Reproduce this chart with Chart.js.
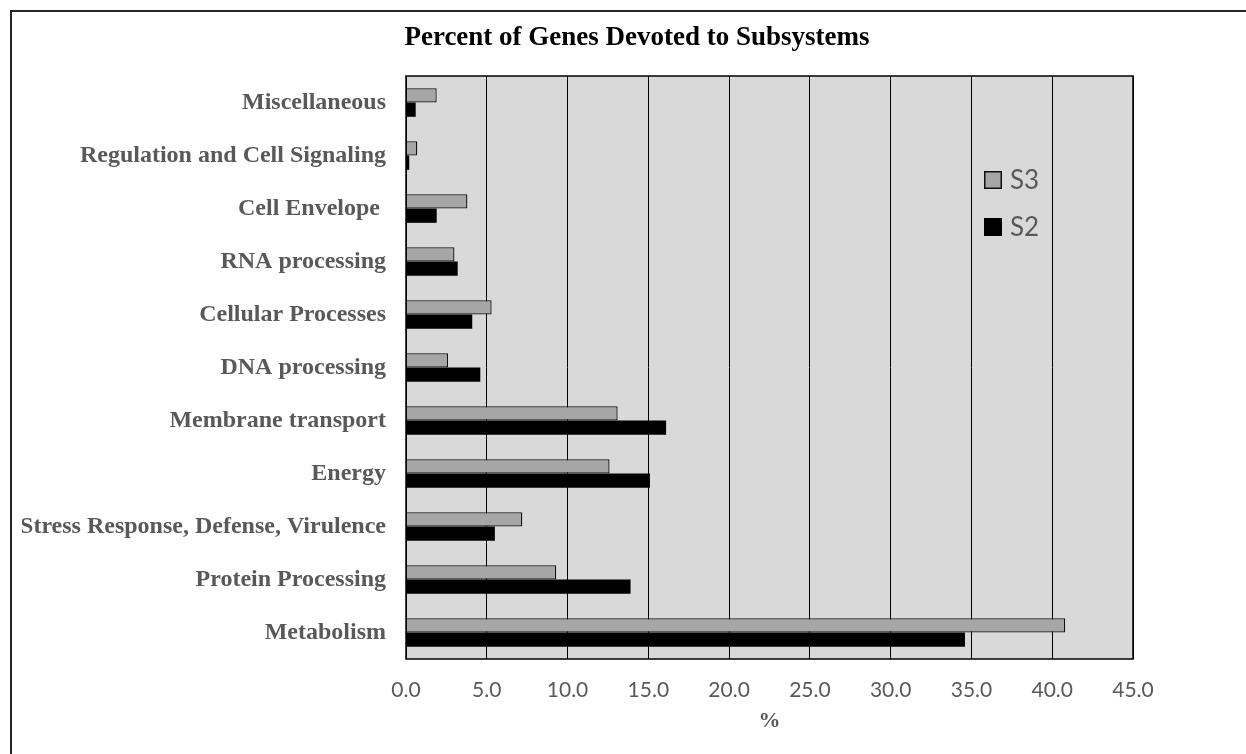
<!DOCTYPE html>
<html>
<head>
<meta charset="utf-8">
<title>Percent of Genes Devoted to Subsystems</title>
<script src="https://cdn.jsdelivr.net/npm/chart.js@4.4.1/dist/chart.umd.min.js"></script>
<style>
  html, body { margin: 0; padding: 0; background: #fff; overflow: hidden; width: 1246px; height: 754px; }
  #frame { position: absolute; left: 10px; top: 10px; width: 1250px; height: 742px; border: 2px solid #262626; }
  canvas { display: block; }
</style>
</head>
<body>
<div id="frame"><canvas id="chart" width="1250" height="742"></canvas></div>
<script>
// Subsystem categories, listed top to bottom
const categories = [
  'Miscellaneous',
  'Regulation and Cell Signaling',
  'Cell Envelope ',
  'RNA processing',
  'Cellular Processes',
  'DNA processing',
  'Membrane transport',
  'Energy',
  'Stress Response, Defense, Virulence',
  'Protein Processing',
  'Metabolism'
];

// Percent of genes per subsystem
const s3Values = [1.9, 0.7, 3.8, 3.0, 5.3, 2.6, 13.1, 12.6, 7.2, 9.3, 40.8];
const s2Values = [0.6, 0.2, 1.9, 3.2, 4.1, 4.6, 16.1, 15.1, 5.5, 13.9, 34.6];

const seriesNames = ['S3', 'S2'];
const chartTitle = 'Percent of Genes Devoted to Subsystems';
const axisTitle = '%';

// Value axis range and tick spacing
const xMin = 0;
const xMax = 45;
const xStep = 5;

const LABEL_GRAY = '#595959';
const SERIF = '"Liberation Serif", "Times New Roman", serif';
const SANS = 'Lato, "Open Sans", sans-serif';

// Grey plot background and black frame around the plot area
const plotFrame = {
  id: 'plotFrame',
  beforeDraw(chart) {
    const { ctx, chartArea: a } = chart;
    ctx.save();
    ctx.fillStyle = '#d9d9d9';
    ctx.fillRect(a.left, a.top, a.right - a.left, a.bottom - a.top);
    ctx.restore();
  },
  afterDatasetsDraw(chart) {
    const { ctx, chartArea: a } = chart;
    ctx.save();
    ctx.strokeStyle = '#000';
    ctx.lineWidth = 1.5;
    ctx.strokeRect(a.left, a.top, a.right - a.left, a.bottom - a.top);
    ctx.restore();
  }
};

// Chart title centred on the whole bordered box
const boxTitle = {
  id: 'boxTitle',
  afterDraw(chart) {
    const { ctx } = chart;
    ctx.save();
    ctx.font = 'bold 27px ' + SERIF;
    ctx.fillStyle = '#000';
    ctx.textAlign = 'center';
    ctx.textBaseline = 'middle';
    ctx.fillText(chartTitle, chart.width / 2, 26);
    ctx.restore();
  }
};

// Legend drawn inside the plot area, near its right side
const innerLegend = {
  id: 'innerLegend',
  afterDraw(chart) {
    const { ctx, chartArea: a } = chart;
    const box = 18;
    const x0 = a.right - 149;
    const rows = [a.top + 104, a.top + 151];
    ctx.save();
    ctx.font = '26px ' + SANS;
    ctx.textBaseline = 'middle';
    ctx.textAlign = 'left';
    chart.data.datasets.forEach((ds, i) => {
      const yc = rows[i];
      ctx.fillStyle = ds.backgroundColor;
      ctx.fillRect(x0, yc - box / 2, box, box);
      if (ds.borderWidth) {
        ctx.strokeStyle = ds.borderColor;
        ctx.lineWidth = 1.5;
        ctx.strokeRect(x0 + 0.75, yc - box / 2 + 0.75, box - 1.5, box - 1.5);
      }
      ctx.fillStyle = LABEL_GRAY;
      ctx.fillText(ds.label, x0 + box + 8, yc + 1);
    });
    ctx.restore();
  }
};

function draw() {
  new Chart(document.getElementById('chart'), {
    type: 'bar',
    data: {
      labels: categories,
      datasets: [
        {
          label: seriesNames[0],
          data: s3Values,
          backgroundColor: '#a6a6a6',
          borderColor: '#111',
          borderWidth: 1.3,
          borderSkipped: 'start',
          barPercentage: 1.0,
          categoryPercentage: 0.54
        },
        {
          label: seriesNames[1],
          data: s2Values,
          backgroundColor: '#000',
          borderWidth: 0,
          barPercentage: 1.0,
          categoryPercentage: 0.54
        }
      ]
    },
    options: {
      indexAxis: 'y',
      responsive: false,
      animation: false,
      devicePixelRatio: 1,
      layout: { padding: { left: 10, right: 129, top: 64, bottom: 19 } },
      plugins: {
        legend: { display: false },
        tooltip: { enabled: false },
        title: { display: false }
      },
      scales: {
        x: {
          type: 'linear',
          min: xMin,
          max: xMax,
          grid: { color: '#000', lineWidth: 1, drawTicks: false },
          border: { display: false },
          ticks: {
            stepSize: xStep,
            padding: 19,
            color: LABEL_GRAY,
            font: { family: SANS, size: 21 },
            callback: v => Number(v).toFixed(1)
          },
          title: {
            display: true,
            text: axisTitle,
            color: LABEL_GRAY,
            font: { family: SERIF, size: 22, weight: 'bold', lineHeight: 1.2 },
            padding: { top: 6, bottom: 0 }
          },
          afterFit(scale) { scale.height = 76; }
        },
        y: {
          grid: { display: false, drawTicks: false },
          border: { display: false },
          ticks: {
            padding: 20,
            color: LABEL_GRAY,
            font: { family: SERIF, size: 24, weight: 'bold' }
          },
          afterFit(scale) { scale.width = 384; }
        }
      }
    },
    plugins: [plotFrame, boxTitle, innerLegend]
  });
}

Promise.all([
  document.fonts.load('bold 24px "Liberation Serif"'),
  document.fonts.load('21px Lato')
]).then(draw, draw);
</script>
</body>
</html>
